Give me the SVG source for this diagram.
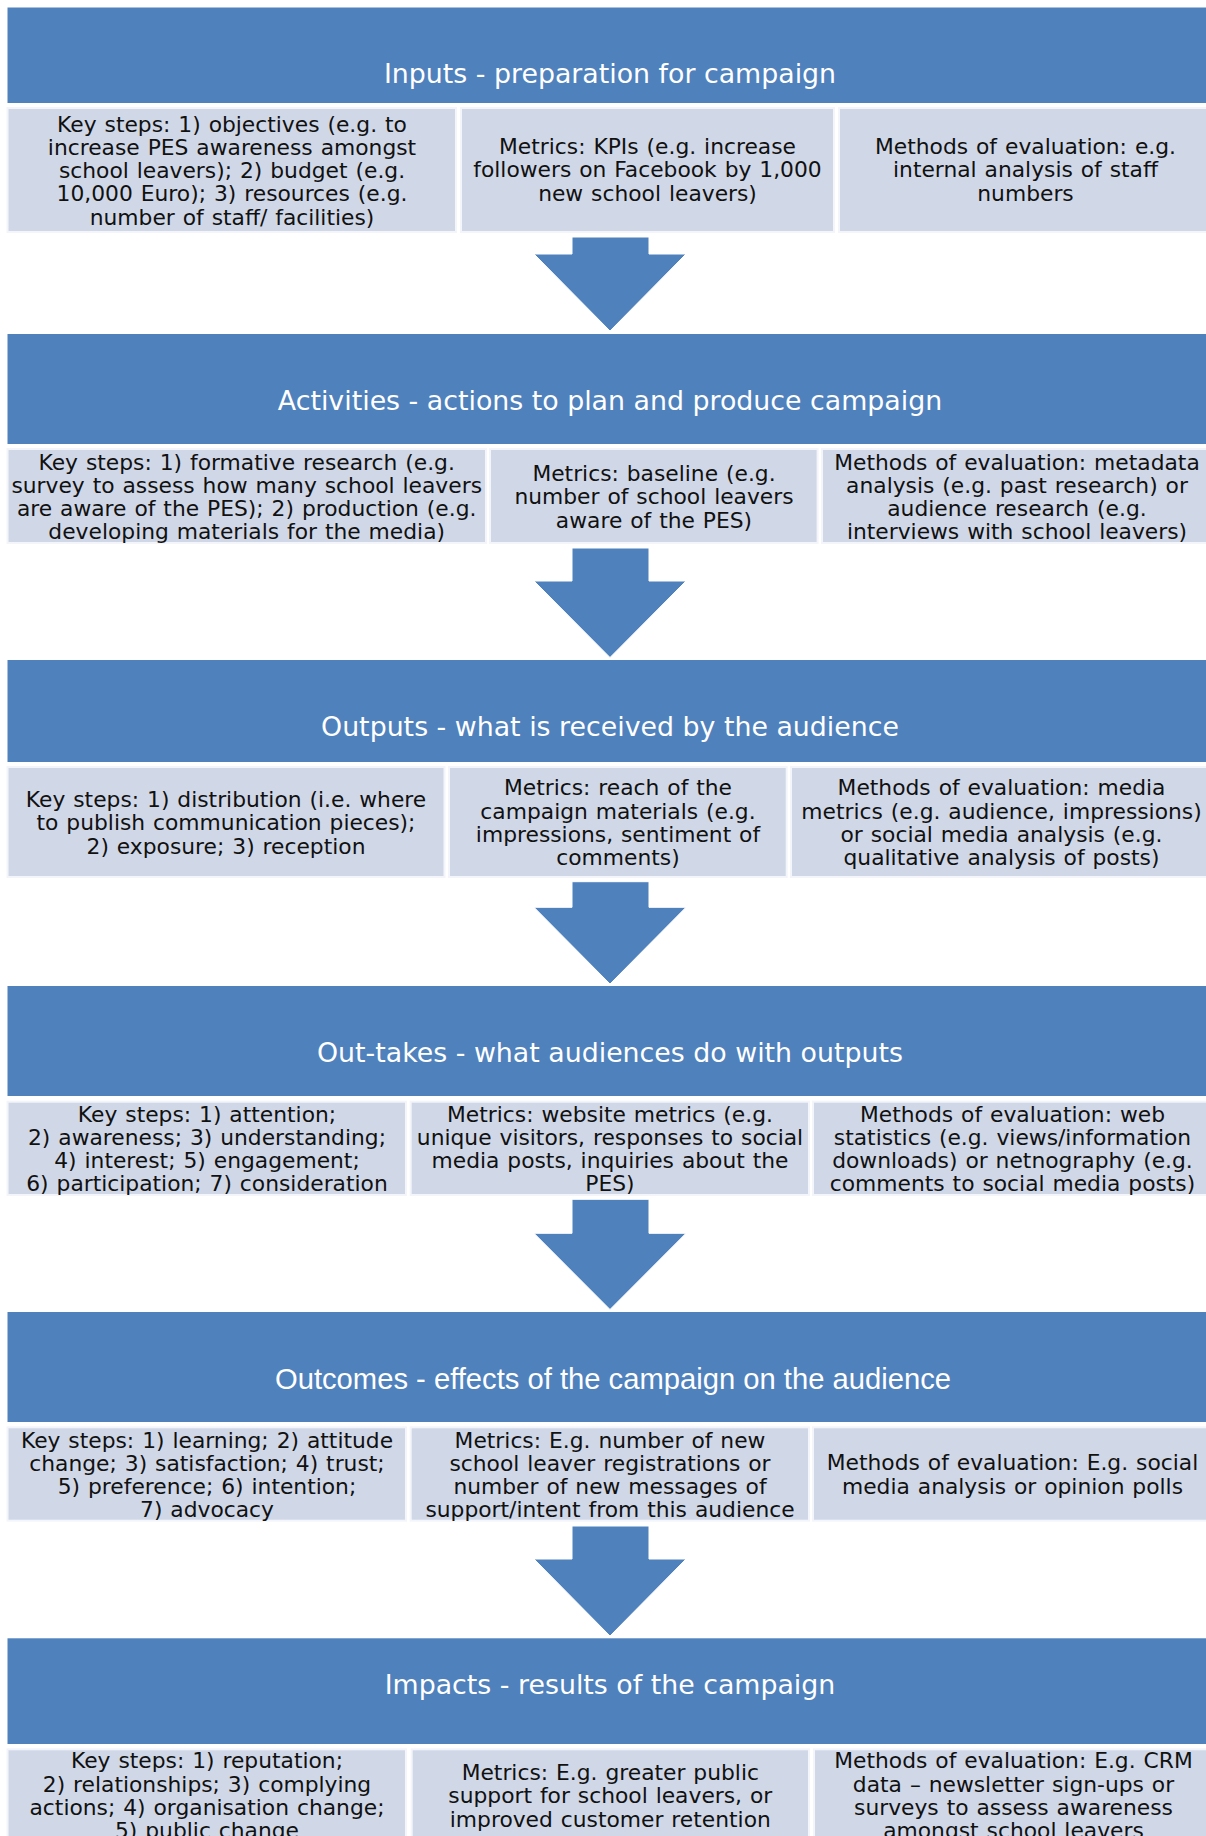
<svg xmlns="http://www.w3.org/2000/svg" width="1206" height="1836" viewBox="0 0 1206 1836">
<style>
.hdr{fill:#4F81BD}
.cell{fill:#D0D8E8;stroke:#F3F5FA;stroke-width:2}
.ht{fill:#FFFFFF;font-family:"DejaVu Sans",Verdana,sans-serif;font-size:26.8px;text-anchor:middle}
.ht2{fill:#FFFFFF;font-family:"Liberation Sans",Arial,sans-serif;font-size:29.2px;text-anchor:middle}
.ct{fill:#111111;font-family:"DejaVu Sans",Verdana,sans-serif;font-size:21.8px;word-spacing:1px;text-anchor:middle}
.arrow{fill:#4F81BD;stroke:#FFFFFF;stroke-width:1}
</style>
<rect width="1206" height="1836" fill="#FFFFFF"/>

<g id="inputs">
<rect class="hdr" x="7.5" y="7.5" width="1206" height="95.5"/>
<text class="ht" x="610" y="82.5">Inputs - preparation for campaign</text>
</g>
<g id="inputs-keysteps">
<rect class="cell" x="7.5" y="108" width="448.5" height="124"/>
<text class="ct" y="131.7"><tspan x="232">Key steps: 1) objectives (e.g. to</tspan><tspan x="232" dy="23.2">increase PES awareness amongst</tspan><tspan x="232" dy="23.2">school leavers); 2) budget (e.g.</tspan><tspan x="232" dy="23.2">10,000 Euro); 3) resources (e.g.</tspan><tspan x="232" dy="23.2">number of staff/ facilities)</tspan></text>
</g>
<g id="inputs-metrics">
<rect class="cell" x="461" y="108" width="373" height="124"/>
<text class="ct" y="154.2"><tspan x="647.5">Metrics: KPIs (e.g. increase</tspan><tspan x="647.5" dy="23.2">followers on Facebook by 1,000</tspan><tspan x="647.5" dy="23.2">new school leavers)</tspan></text>
</g>
<g id="inputs-methods">
<rect class="cell" x="839" y="108" width="374" height="124"/>
<text class="ct" y="154.2"><tspan x="1025.5">Methods of evaluation: e.g.</tspan><tspan x="1025.5" dy="23.2">internal analysis of staff</tspan><tspan x="1025.5" dy="23.2">numbers</tspan></text>
</g>

<g id="activities">
<rect class="hdr" x="7.5" y="334" width="1206" height="110"/>
<text class="ht" x="610" y="410">Activities - actions to plan and produce campaign</text>
</g>
<g id="activities-keysteps">
<rect class="cell" x="7.5" y="449" width="478.5" height="94"/>
<text class="ct" y="470.2"><tspan x="246.7">Key steps: 1) formative research (e.g.</tspan><tspan x="246.7" dy="23">survey to assess how many school leavers</tspan><tspan x="246.7" dy="23">are aware of the PES); 2) production (e.g.</tspan><tspan x="246.7" dy="23">developing materials for the media)</tspan></text>
</g>
<g id="activities-metrics">
<rect class="cell" x="490" y="449" width="327.6" height="94"/>
<text class="ct" y="481.2"><tspan x="654">Metrics: baseline (e.g.</tspan><tspan x="654" dy="23.2">number of school leavers</tspan><tspan x="654" dy="23.2">aware of the PES)</tspan></text>
</g>
<g id="activities-methods">
<rect class="cell" x="822" y="449" width="391" height="94"/>
<text class="ct" y="470.2"><tspan x="1017">Methods of evaluation: metadata</tspan><tspan x="1017" dy="23">analysis (e.g. past research) or</tspan><tspan x="1017" dy="23">audience research (e.g.</tspan><tspan x="1017" dy="23">interviews with school leavers)</tspan></text>
</g>

<g id="outputs">
<rect class="hdr" x="7.5" y="660" width="1206" height="102"/>
<text class="ht" x="610" y="735.5">Outputs - what is received by the audience</text>
</g>
<g id="outputs-keysteps">
<rect class="cell" x="7.5" y="767" width="437" height="110"/>
<text class="ct" y="806.7"><tspan x="226">Key steps: 1) distribution (i.e. where</tspan><tspan x="226" dy="23.5">to publish communication pieces);</tspan><tspan x="226" dy="23.5">2) exposure; 3) reception</tspan></text>
</g>
<g id="outputs-metrics">
<rect class="cell" x="449" y="767" width="337.7" height="110"/>
<text class="ct" y="795.2"><tspan x="618">Metrics: reach of the</tspan><tspan x="618" dy="23.3">campaign materials (e.g.</tspan><tspan x="618" dy="23.3">impressions, sentiment of</tspan><tspan x="618" dy="23.3">comments)</tspan></text>
</g>
<g id="outputs-methods">
<rect class="cell" x="791" y="767" width="422" height="110"/>
<text class="ct" y="795.2"><tspan x="1001.5">Methods of evaluation: media</tspan><tspan x="1001.5" dy="23.3">metrics (e.g. audience, impressions)</tspan><tspan x="1001.5" dy="23.3">or social media analysis (e.g.</tspan><tspan x="1001.5" dy="23.3">qualitative analysis of posts)</tspan></text>
</g>

<g id="outtakes">
<rect class="hdr" x="7.5" y="986" width="1206" height="110"/>
<text class="ht" x="610" y="1062">Out-takes - what audiences do with outputs</text>
</g>
<g id="outtakes-keysteps">
<rect class="cell" x="7.5" y="1101.7" width="398.5" height="93.3"/>
<text class="ct" y="1122.2"><tspan x="207">Key steps: 1) attention;</tspan><tspan x="207" dy="23">2) awareness; 3) understanding;</tspan><tspan x="207" dy="23">4) interest; 5) engagement;</tspan><tspan x="207" dy="23">6) participation; 7) consideration</tspan></text>
</g>
<g id="outtakes-metrics">
<rect class="cell" x="410.7" y="1101.7" width="398.3" height="93.3"/>
<text class="ct" y="1122.2"><tspan x="610">Metrics: website metrics (e.g.</tspan><tspan x="610" dy="23">unique visitors, responses to social</tspan><tspan x="610" dy="23">media posts, inquiries about the</tspan><tspan x="610" dy="23">PES)</tspan></text>
</g>
<g id="outtakes-methods">
<rect class="cell" x="813" y="1101.7" width="400" height="93.3"/>
<text class="ct" y="1122.2"><tspan x="1012.5">Methods of evaluation: web</tspan><tspan x="1012.5" dy="23">statistics (e.g. views/information</tspan><tspan x="1012.5" dy="23">downloads) or netnography (e.g.</tspan><tspan x="1012.5" dy="23">comments to social media posts)</tspan></text>
</g>

<g id="outcomes">
<rect class="hdr" x="7.5" y="1312" width="1206" height="110"/>
<text class="ht2" x="613" y="1389">Outcomes - effects of the campaign on the audience</text>
</g>
<g id="outcomes-keysteps">
<rect class="cell" x="7.5" y="1427.3" width="398.5" height="93.4"/>
<text class="ct" y="1447.7"><tspan x="207">Key steps: 1) learning; 2) attitude</tspan><tspan x="207" dy="23.2">change; 3) satisfaction; 4) trust;</tspan><tspan x="207" dy="23.2">5) preference; 6) intention;</tspan><tspan x="207" dy="23.2">7) advocacy</tspan></text>
</g>
<g id="outcomes-metrics">
<rect class="cell" x="410.7" y="1427.3" width="398.3" height="93.4"/>
<text class="ct" y="1447.7"><tspan x="610">Metrics: E.g. number of new</tspan><tspan x="610" dy="23.2">school leaver registrations or</tspan><tspan x="610" dy="23.2">number of new messages of</tspan><tspan x="610" dy="23.2">support/intent from this audience</tspan></text>
</g>
<g id="outcomes-methods">
<rect class="cell" x="813" y="1427.3" width="400" height="93.4"/>
<text class="ct" y="1470.2"><tspan x="1012.5">Methods of evaluation: E.g. social</tspan><tspan x="1012.5" dy="23.4">media analysis or opinion polls</tspan></text>
</g>

<g id="impacts">
<rect class="hdr" x="7.5" y="1638.3" width="1206" height="105.7"/>
<text class="ht" x="610" y="1694">Impacts - results of the campaign</text>
</g>
<g id="impacts-keysteps">
<rect class="cell" x="7.5" y="1749.3" width="398.5" height="100"/>
<text class="ct" y="1768.2"><tspan x="207">Key steps: 1) reputation;</tspan><tspan x="207" dy="23.3">2) relationships; 3) complying</tspan><tspan x="207" dy="23.3">actions; 4) organisation change;</tspan><tspan x="207" dy="23.3">5) public change</tspan></text>
</g>
<g id="impacts-metrics">
<rect class="cell" x="411.7" y="1749.3" width="397.3" height="100"/>
<text class="ct" y="1780.2"><tspan x="610.3">Metrics: E.g. greater public</tspan><tspan x="610.3" dy="23.2">support for school leavers, or</tspan><tspan x="610.3" dy="23.2">improved customer retention</tspan></text>
</g>
<g id="impacts-methods">
<rect class="cell" x="814" y="1749.3" width="399" height="100"/>
<text class="ct" y="1768.2"><tspan x="1013.5">Methods of evaluation: E.g. CRM</tspan><tspan x="1013.5" dy="23.3">data – newsletter sign-ups or</tspan><tspan x="1013.5" dy="23.3">surveys to assess awareness</tspan><tspan x="1013.5" dy="23.3">amongst school leavers</tspan></text>
</g>

<g id="connectors">
<path class="arrow" d="M572,237 H649 V254 H686 L610,331 L534,254 H572 Z"/>
<path class="arrow" d="M572,548 H649 V581 H686 L610,657.5 L534,581 H572 Z"/>
<path class="arrow" d="M572,881.7 H649 V907.3 H686 L610,984 L534,907.3 H572 Z"/>
<path class="arrow" d="M572,1199.3 H649 V1233.3 H686 L610,1309.5 L534,1233.3 H572 Z"/>
<path class="arrow" d="M572,1526 H649 V1559 H686 L610,1636 L534,1559 H572 Z"/>
</g>
</svg>
